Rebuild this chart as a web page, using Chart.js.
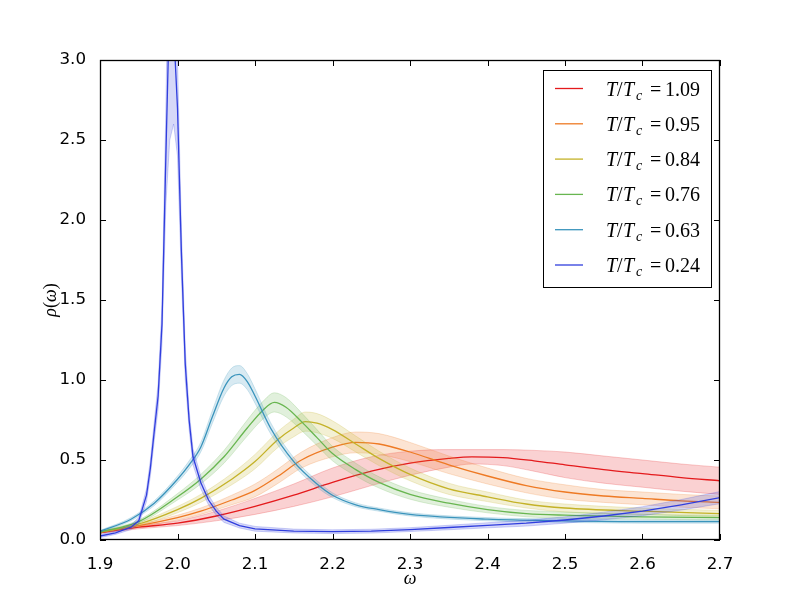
<!DOCTYPE html>
<html>
<head>
<meta charset="utf-8">
<script src="https://cdn.jsdelivr.net/npm/chart.js@4.4.1/dist/chart.umd.min.js"></script>
<style>
  html, body { margin: 0; padding: 0; background: #fff; }
  canvas { display: block; }
</style>
</head>
<body>
<canvas id="myChartRho" width="800" height="600"></canvas>
<script>
// temperatures shown in the legend
const tempLabels = ["1.09", "0.95", "0.84", "0.76", "0.63", "0.24"];

// T/Tc = 1.09
const omegaRed = [1.90, 1.95, 2.00, 2.05, 2.10, 2.15, 2.20, 2.25, 2.30, 2.35, 2.38, 2.42, 2.46, 2.50, 2.55, 2.60, 2.65, 2.70];
const rhoRed = [0.045, 0.08, 0.105, 0.15, 0.21, 0.28, 0.36, 0.43, 0.48, 0.51, 0.52, 0.515, 0.495, 0.47, 0.44, 0.415, 0.39, 0.37];
const errRed = [0.005, 0.01, 0.015, 0.03, 0.05, 0.07, 0.09, 0.09, 0.075, 0.055, 0.045, 0.05, 0.065, 0.08, 0.085, 0.085, 0.085, 0.085];

// T/Tc = 0.95
const omegaOrange = [1.90, 1.95, 2.00, 2.03, 2.07, 2.10, 2.13, 2.16, 2.20, 2.23, 2.26, 2.30, 2.35, 2.40, 2.45, 2.50, 2.55, 2.60, 2.65, 2.70];
const rhoOrange = [0.05, 0.09, 0.14, 0.18, 0.25, 0.31, 0.40, 0.50, 0.58, 0.61, 0.60, 0.55, 0.47, 0.40, 0.34, 0.30, 0.275, 0.26, 0.245, 0.235];
const errOrange = [0.005, 0.008, 0.015, 0.02, 0.03, 0.04, 0.045, 0.05, 0.06, 0.065, 0.065, 0.06, 0.055, 0.05, 0.045, 0.045, 0.04, 0.04, 0.04, 0.04];

// T/Tc = 0.84
const omegaYellow = [1.90, 1.95, 2.00, 2.03, 2.07, 2.10, 2.13, 2.15, 2.165, 2.18, 2.20, 2.23, 2.26, 2.30, 2.35, 2.40, 2.45, 2.50, 2.60, 2.70];
const rhoYellow = [0.05, 0.10, 0.19, 0.26, 0.38, 0.49, 0.63, 0.70, 0.74, 0.73, 0.69, 0.60, 0.51, 0.41, 0.32, 0.27, 0.225, 0.20, 0.18, 0.165];
const errYellow = [0.005, 0.01, 0.02, 0.025, 0.035, 0.045, 0.05, 0.055, 0.06, 0.06, 0.055, 0.05, 0.045, 0.04, 0.035, 0.03, 0.025, 0.025, 0.02, 0.02];

// T/Tc = 0.76
const omegaGreen = [1.90, 1.95, 2.00, 2.03, 2.06, 2.09, 2.11, 2.125, 2.14, 2.16, 2.18, 2.20, 2.23, 2.26, 2.30, 2.35, 2.40, 2.45, 2.50, 2.60, 2.70];
const rhoGreen = [0.05, 0.115, 0.27, 0.38, 0.52, 0.70, 0.81, 0.86, 0.83, 0.74, 0.64, 0.54, 0.44, 0.36, 0.285, 0.23, 0.19, 0.165, 0.155, 0.145, 0.14];
const errGreen = [0.005, 0.01, 0.02, 0.03, 0.04, 0.05, 0.055, 0.06, 0.06, 0.055, 0.05, 0.045, 0.04, 0.035, 0.03, 0.025, 0.02, 0.02, 0.02, 0.015, 0.015];

// T/Tc = 0.63
const omegaTeal = [1.90, 1.94, 1.97, 2.00, 2.015, 2.03, 2.045, 2.06, 2.07, 2.08, 2.09, 2.10, 2.12, 2.15, 2.18, 2.20, 2.23, 2.26, 2.30, 2.40, 2.50, 2.60, 2.70];
const rhoTeal = [0.055, 0.13, 0.23, 0.38, 0.47, 0.58, 0.77, 0.95, 1.02, 1.035, 0.99, 0.90, 0.70, 0.49, 0.35, 0.28, 0.22, 0.19, 0.16, 0.13, 0.12, 0.115, 0.115];
const errTeal = [0.005, 0.01, 0.015, 0.02, 0.025, 0.03, 0.04, 0.05, 0.055, 0.055, 0.05, 0.045, 0.035, 0.025, 0.02, 0.015, 0.012, 0.01, 0.01, 0.01, 0.01, 0.01, 0.01];

// T/Tc = 0.24
const omegaBlue = [1.90, 1.92, 1.94, 1.95, 1.96, 1.965, 1.97, 1.975, 1.98, 1.985, 1.99, 1.995, 2.00, 2.005, 2.01, 2.015, 2.02, 2.03, 2.04, 2.05, 2.06, 2.08, 2.10, 2.15, 2.20, 2.25, 2.30, 2.35, 2.40, 2.45, 2.50, 2.55, 2.60, 2.65, 2.70];
const rhoBlue = [0.025, 0.045, 0.08, 0.12, 0.28, 0.45, 0.68, 0.9, 1.35, 2.4, 3.4, 3.2, 2.7, 1.8, 1.1, 0.75, 0.52, 0.36, 0.25, 0.18, 0.13, 0.09, 0.07, 0.056, 0.052, 0.055, 0.065, 0.078, 0.092, 0.105, 0.125, 0.15, 0.18, 0.22, 0.265];
const errBlue = [0.01, 0.01, 0.015, 0.02, 0.04, 0.05, 0.06, 0.08, 0.12, 0.3, 0.9, 0.6, 0.3, 0.15, 0.1, 0.06, 0.05, 0.04, 0.03, 0.025, 0.02, 0.015, 0.015, 0.012, 0.012, 0.012, 0.012, 0.014, 0.016, 0.018, 0.02, 0.024, 0.028, 0.033, 0.038];

const colores = [
  [228, 26, 28],
  [238, 122, 36],
  [196, 178, 40],
  [104, 182, 80],
  [58, 148, 188],
  [48, 62, 222],
];

const series = [
  [omegaRed, rhoRed, errRed],
  [omegaOrange, rhoOrange, errOrange],
  [omegaYellow, rhoYellow, errYellow],
  [omegaGreen, rhoGreen, errGreen],
  [omegaTeal, rhoTeal, errTeal],
  [omegaBlue, rhoBlue, errBlue],
];

const rgba = (c, a) => "rgba(" + c[0] + "," + c[1] + "," + c[2] + "," + a + ")";

// each series: upper band (filled to next), lower band, then the line
let datasets = [];
series.forEach((s, i) => {
  const [w, r, e] = s;
  const col = colores[i];
  const smooth = i < 5 ? { cubicInterpolationMode: "monotone" } : { tension: 0 };
  datasets.push({
    data: w.map((x, k) => ({ x: x, y: r[k] + e[k] })),
    borderColor: rgba(col, 0.22),
    borderWidth: 1,
    backgroundColor: rgba(col, 0.2),
    pointRadius: 0,
    fill: "+1",
    order: 105 - 10 * i,
    isBand: true,
    ...smooth,
  });
  datasets.push({
    data: w.map((x, k) => ({ x: x, y: r[k] - e[k] })),
    borderColor: rgba(col, 0.22),
    borderWidth: 1,
    pointRadius: 0,
    fill: false,
    order: 105 - 10 * i,
    isBand: true,
    ...smooth,
  });
  datasets.push({
    label: "T/Tc=" + tempLabels[i],
    temp: tempLabels[i],
    data: w.map((x, k) => ({ x: x, y: r[k] })),
    borderColor: rgba(col, 1),
    borderWidth: 1.3,
    pointRadius: 0,
    fill: false,
    order: 100 - 10 * i,
    ...smooth,
  });
});

// frame, inward ticks, axis titles and legend box like matplotlib
const marco = {
  id: "marco",
  afterDraw(chart) {
    const { ctx, chartArea: a, scales } = chart;
    const x = scales.x, y = scales.y;
    ctx.save();
    ctx.strokeStyle = "#000";
    ctx.lineWidth = 1;
    ctx.beginPath();
    x.ticks.forEach((t) => {
      const px = Math.round(x.getPixelForValue(t.value)) + 0.5;
      ctx.moveTo(px, a.bottom); ctx.lineTo(px, a.bottom - 6);
      ctx.moveTo(px, a.top); ctx.lineTo(px, a.top + 6);
    });
    y.ticks.forEach((t) => {
      const py = Math.round(y.getPixelForValue(t.value)) + 0.5;
      ctx.moveTo(a.left, py); ctx.lineTo(a.left + 6, py);
      ctx.moveTo(a.right, py); ctx.lineTo(a.right - 6, py);
    });
    ctx.stroke();
    ctx.lineWidth = 1.3;
    ctx.strokeRect(a.left + 0.5, a.top + 0.5, a.right - a.left - 1, a.bottom - a.top - 1);

    // axis titles
    ctx.fillStyle = "#000";
    ctx.textAlign = "center";
    ctx.textBaseline = "alphabetic";
    ctx.font = "italic 18px 'Liberation Serif'";
    ctx.fillText("ω", (a.left + a.right) / 2, 584);
    ctx.save();
    ctx.translate(56, (a.top + a.bottom) / 2);
    ctx.rotate(-Math.PI / 2);
    const trozos = [["ρ", true], ["(", false], ["ω", true], [")", false]];
    ctx.textAlign = "left";
    let total = 0;
    trozos.forEach(([s, it]) => {
      ctx.font = (it ? "italic " : "") + "18px 'Liberation Serif'";
      total += ctx.measureText(s).width;
    });
    let cx = -total / 2;
    trozos.forEach(([s, it]) => {
      ctx.font = (it ? "italic " : "") + "18px 'Liberation Serif'";
      ctx.fillText(s, cx, 0);
      cx += ctx.measureText(s).width;
    });
    ctx.restore();

    // legend
    const bx = 543, by = 70, bw = 168, bh = 217;
    ctx.fillStyle = "#fff";
    ctx.fillRect(bx, by, bw, bh);
    ctx.lineWidth = 1;
    ctx.strokeStyle = "#000";
    ctx.strokeRect(bx + 0.5, by + 0.5, bw, bh);
    const lines = chart.data.datasets.filter((d) => !d.isBand);
    ctx.textAlign = "left";
    lines.forEach((d, i) => {
      const ry = 88.5 + i * 35.3;
      ctx.strokeStyle = d.borderColor;
      ctx.lineWidth = 1.3;
      ctx.beginPath();
      ctx.moveTo(555, ry); ctx.lineTo(583, ry);
      ctx.stroke();
      ctx.fillStyle = "#000";
      const base = ry + 7;
      // [text, font, baseline shift, x position]
      const parts = [
        ["T", "italic 20px 'Liberation Serif'", 0, 606],
        ["/", "20px 'Liberation Serif'", 0, 617],
        ["T", "italic 20px 'Liberation Serif'", 0, 623],
        ["c", "italic 14px 'Liberation Serif'", 4, 636],
        ["=", "20px 'Liberation Serif'", 0, 650],
        [d.temp, "20px 'Liberation Serif'", 0, 665],
      ];
      parts.forEach(([s, f, dy, px]) => {
        ctx.font = f;
        ctx.fillText(s, px, base + dy);
      });
    });
    ctx.restore();
  },
};

const ctxRho = document.getElementById("myChartRho").getContext("2d");
const myChartRho = new Chart(ctxRho, {
  type: "line",
  data: { datasets: datasets },
  options: {
    responsive: false,
    animation: false,
    devicePixelRatio: 1,
    layout: { padding: { top: 60, right: 80, left: 0, bottom: 0 } },
    plugins: {
      legend: { display: false },
      tooltip: { enabled: false },
      filler: { propagate: false },
    },
    scales: {
      x: {
        type: "linear",
        min: 1.9,
        max: 2.7,
        ticks: {
          stepSize: 0.1,
          padding: 7,
          color: "#000",
          font: { family: "'DejaVu Sans'", size: 16.7 },
          callback: (v) => v.toFixed(1),
        },
        grid: { display: false },
        border: { display: false },
        afterFit: (s) => { s.height = 60; },
      },
      y: {
        min: 0,
        max: 3,
        ticks: {
          stepSize: 0.5,
          padding: 6,
          color: "#000",
          font: { family: "'DejaVu Sans'", size: 16.7 },
          callback: (v) => v.toFixed(1),
        },
        grid: { display: false },
        border: { display: false },
        afterFit: (s) => { s.width = 100; },
      },
    },
  },
  plugins: [marco],
});
</script>
</body>
</html>
